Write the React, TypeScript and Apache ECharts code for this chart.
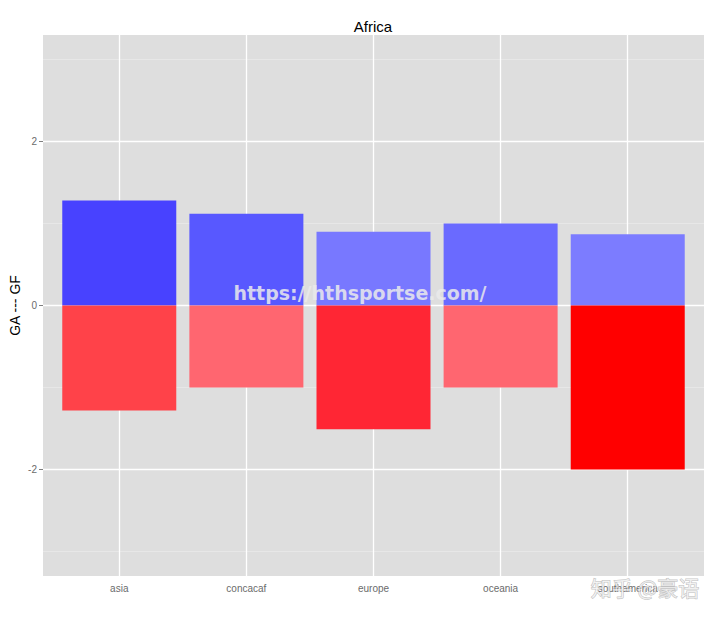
import React, { useEffect, useRef } from "react";
import * as echarts from "echarts";

const categories = ["asia", "concacaf", "europe", "oceania", "southamerica"];
const gfValues = [1.28, 1.12, 0.9, 1.0, 0.87];
const gaValues = [-1.28, -1.0, -1.51, -1.0, -2.0];
const gfColors = ["#4842FF", "#5858FF", "#7878FF", "#6A6AFF", "#7C7CFF"];
const gaColors = ["#FF4249", "#FF6670", "#FF2634", "#FF6670", "#FF0000"];
const yTicks = [-2, 0, 2];
const yMinor = [-3, -1, 1, 3];
const xPositions = [1, 2, 3, 4, 5];

const FONT = "Liberation Sans";

export default function App() {
  const ref = useRef<HTMLDivElement>(null);
  useEffect(() => {
    document.body.style.margin = "0";
    if (!ref.current) return;
    const chart = echarts.init(ref.current, undefined, { renderer: "svg" });
    chart.setOption({
      animation: false,
      textStyle: { fontFamily: FONT },
      grid: {
        left: 43,
        right: 16,
        top: 35,
        bottom: 41,
        show: true,
        backgroundColor: "#DEDEDE",
        borderWidth: 0,
        containLabel: false,
        outerBoundsMode: "none",
      },
      xAxis: {
        type: "value",
        min: 0.4,
        max: 5.6,
        axisLine: { show: false },
        axisTick: {
          show: true,
          customValues: xPositions,
          length: 4,
          lineStyle: { color: "#7F7F7F", width: 1 },
        },
        axisLabel: {
          customValues: xPositions,
          formatter: (v: number) => categories[Math.round(v) - 1] ?? "",
          color: "#6B6B6B",
          fontSize: 10,
          margin: 7,
          fontFamily: FONT,
        },
        splitLine: { show: true, lineStyle: { color: "#FFFFFF", width: 1.3 } },
      },
      yAxis: [
        {
          type: "value",
          min: -3.3,
          max: 3.3,
          name: "GA --- GF",
          nameLocation: "middle",
          nameRotate: 90,
          nameGap: 21,
          nameMoveOverlap: false,
          nameTextStyle: { color: "#000", fontSize: 14, fontFamily: FONT },
          axisLine: { show: false },
          axisTick: {
            show: true,
            customValues: yTicks,
            length: 4,
            lineStyle: { color: "#7F7F7F", width: 1 },
          },
          axisLabel: {
            customValues: yTicks,
            color: "#6B6B6B",
            fontSize: 10,
            margin: 6,
            fontFamily: FONT,
          },
          splitLine: { show: true, lineStyle: { color: "#FFFFFF", width: 1.3 } },
          z: 1,
        },
        {
          type: "value",
          min: -3.3,
          max: 3.3,
          position: "left",
          axisLine: { show: false },
          axisTick: { show: false, customValues: yMinor },
          axisLabel: { show: false, customValues: yMinor },
          splitLine: { show: true, lineStyle: { color: "#EAEAEA", width: 0.8 } },
          z: 0,
        },
      ],
      series: [
        {
          type: "bar",
          name: "GF",
          z: 2,
          barWidth: 114,
          barGap: "-100%",
          data: gfValues.map((v, i) => ({
            value: [xPositions[i], v],
            itemStyle: { color: gfColors[i] },
          })),
        },
        {
          type: "bar",
          name: "GA",
          z: 2,
          barWidth: 114,
          barGap: "-100%",
          data: gaValues.map((v, i) => ({
            value: [xPositions[i], v],
            itemStyle: { color: gaColors[i] },
          })),
        },
      ],
      graphic: [
        {
          type: "text",
          x: 373,
          y: 26,
          style: {
            text: "Africa",
            fill: "#000",
            font: `15px '${FONT}'`,
            textAlign: "center",
            textVerticalAlign: "middle",
          },
        },
        {
          type: "text",
          x: 360,
          y: 293,
          z: 100,
          style: {
            text: "https://hthsportse.com/",
            fill: "rgba(235,235,235,0.85)",
            font: "bold 19px 'DejaVu Sans'",
            textAlign: "center",
            textVerticalAlign: "middle",
          },
        },
        {
          type: "text",
          x: 645,
          y: 587,
          z: 100,
          style: {
            text: "知乎 @豪语",
            fill: "rgba(255,255,255,0.6)",
            stroke: "rgba(150,150,150,0.6)",
            lineWidth: 1,
            font: "21px 'Noto Sans CJK SC'",
            textAlign: "center",
            textVerticalAlign: "middle",
          },
        },
      ],
    });
    return () => chart.dispose();
  }, []);
  return <div ref={ref} style={{ width: 720, height: 617 }} />;
}
